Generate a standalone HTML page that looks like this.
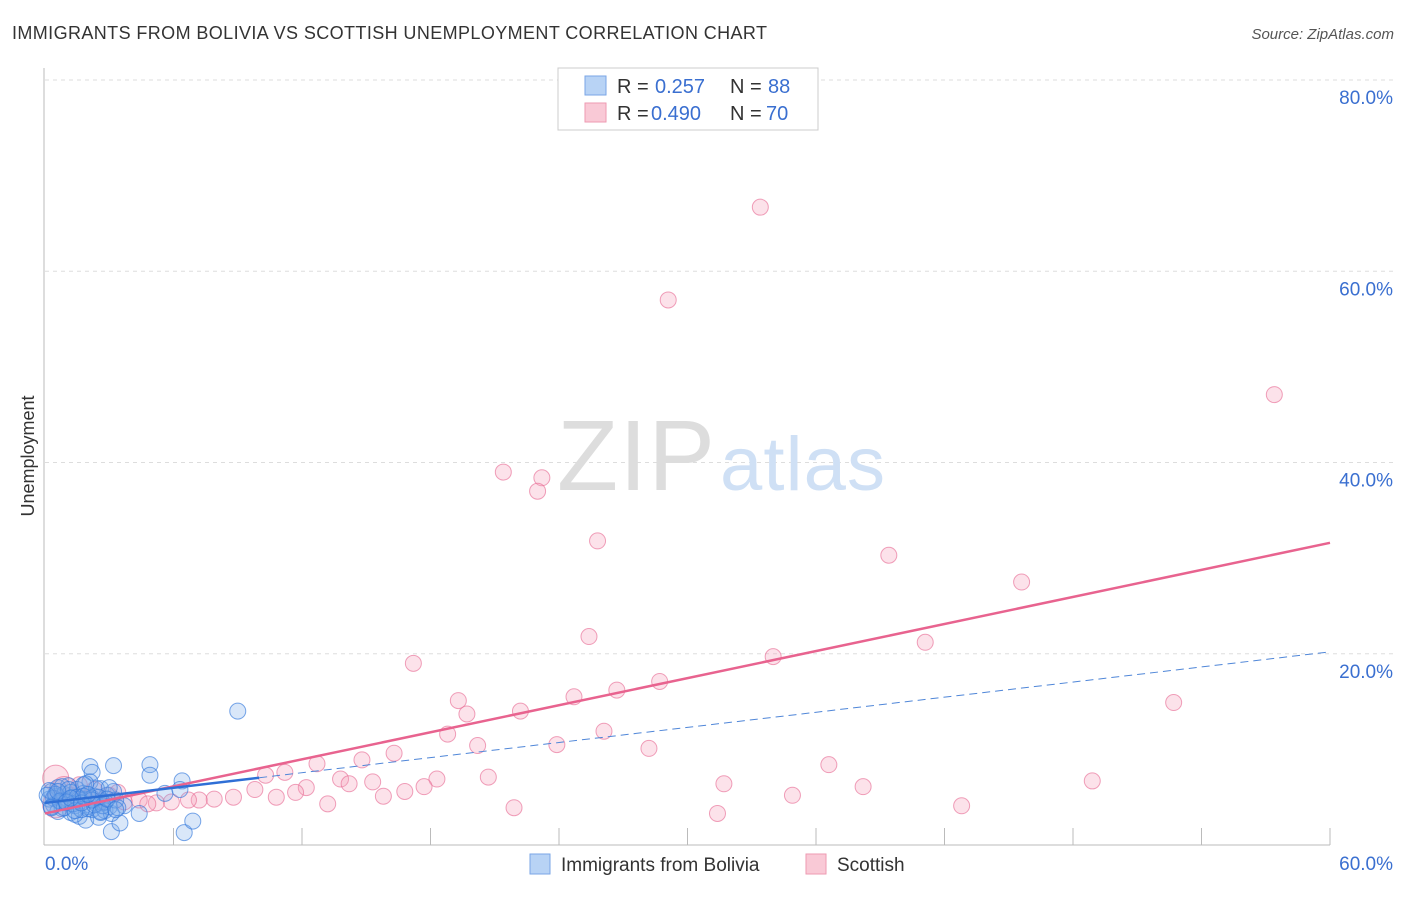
<!DOCTYPE html>
<html><head><meta charset="utf-8"><style>
body{margin:0;background:#fff;font-family:"Liberation Sans",sans-serif;}
svg text{font-family:"Liberation Sans",sans-serif;}
</style></head><body>
<svg id="chart" width="1406" height="892" viewBox="0 0 1406 892">
<text x="12" y="39" font-size="18" fill="#333" textLength="755">IMMIGRANTS FROM BOLIVIA VS SCOTTISH UNEMPLOYMENT CORRELATION CHART</text>
<text x="1394" y="39" font-size="15" fill="#555" font-style="italic" text-anchor="end">Source: ZipAtlas.com</text>
<g id="grid"></g>
<text x="557" y="490" font-size="100" fill="#ddd" textLength="158" font-family="Liberation Serif">ZIP</text>
<text x="720" y="490" font-size="76" fill="#cfe0f5" textLength="165">atlas</text>
<text transform="translate(34,456) rotate(-90)" font-size="18" fill="#333" text-anchor="middle">Unemployment</text>
<g id="points"></g>
<g id="lines"></g>
<g>
<rect x="558" y="68" width="260" height="62" fill="#fff" stroke="#ccc"/>
<rect x="585" y="76" width="21" height="19" fill="#b8d3f5" stroke="#7aa6e6"/>
<text x="617" y="93" font-size="20" fill="#333">R =</text>
<text x="655" y="93" font-size="20" fill="#3a6fd0">0.257</text>
<text x="730" y="93" font-size="20" fill="#333">N =</text>
<text x="768" y="93" font-size="20" fill="#3a6fd0">88</text>
<rect x="585" y="103" width="21" height="19" fill="#f9c9d6" stroke="#ee9ab2"/>
<text x="617" y="120" font-size="20" fill="#333">R =</text>
<text x="651" y="120" font-size="20" fill="#3a6fd0">0.490</text>
<text x="730" y="120" font-size="20" fill="#333">N =</text>
<text x="766" y="120" font-size="20" fill="#3a6fd0">70</text>
</g>
<g>
<rect x="530" y="854" width="20" height="20" fill="#b8d3f5" stroke="#7aa6e6"/>
<text x="561" y="871" font-size="19" fill="#333">Immigrants from Bolivia</text>
<rect x="806" y="854" width="20" height="20" fill="#f9c9d6" stroke="#ee9ab2"/>
<text x="837" y="871" font-size="19" fill="#333">Scottish</text>
</g>
</svg>
<script>
const yTicks=[20,40,60,80];
const yTickLabels=["20.0%","40.0%","60.0%","80.0%"];
const xTickLabels=["0.0%","60.0%"];
const xTicks=[6,12,18,24,30,36,42,48,54,60];
const pinkX=[33.4,29.1,57.4,21.4,23.2,23.0,25.8,39.4,45.6,25.4,41.1,17.2,34.0,19.3,19.7,24.7,26.7,28.7,22.2,52.7,18.8,20.2,23.9,26.1,28.2,16.3,14.8,12.7,36.6,20.7,18.3,13.8,14.2,15.3,31.7,48.9,38.2,17.7,16.8,15.8,34.9,42.8,21.9,31.4,13.2,12.2,11.7,10.8,10.3,11.2,9.8,8.8,7.9,7.2,6.7,5.9,5.2,4.4,3.7,3.0,2.3,1.6,0.5,1.2,0.5,0.9,1.9,2.6,3.4,4.8];
const pinkY=[66.7,57.0,47.1,39.0,38.4,37.0,31.8,30.3,27.5,21.8,21.2,19.0,19.7,15.1,13.7,15.5,16.2,17.1,14.0,14.9,11.6,10.4,10.5,11.9,10.1,9.6,8.9,8.5,8.4,7.1,6.9,6.9,6.4,6.6,6.4,6.7,6.1,6.1,5.6,5.1,5.2,4.1,3.9,3.3,4.3,6.0,5.5,5.0,7.3,7.6,5.8,5.0,4.8,4.7,4.7,4.5,4.4,4.7,4.5,5.2,5.8,6.3,7.0,5.2,4.2,5.8,4.9,4.6,5.5,4.3];
const blueX=[9.0,4.9,4.9,2.1,2.2,3.2,6.4,5.6,6.3,6.5,6.9,3.1,3.5,4.4,3.7,0.2,0.3,0.4,0.5,0.6,0.7,0.8,0.9,1.0,1.1,1.2,1.3,1.4,1.5,1.6,1.7,1.8,1.9,2.0,2.1,2.2,2.3,2.4,2.5,2.6,2.7,2.8,2.9,3.0,3.1,3.2,3.3,3.4,0.2,0.4,0.6,0.8,1.0,1.2,1.4,1.6,1.8,2.0,2.2,2.4,2.6,2.8,3.0,0.3,0.5,0.7,0.9,1.1,1.3,1.5,1.7,1.9,2.3,2.5,2.7,0.1,0.3,0.6,1.0,1.4,1.8,2.2,2.6,1.2,1.7,2.0,2.9,3.3];
const blueY=[14.0,8.4,7.3,8.2,7.6,8.3,6.7,5.4,5.8,1.3,2.5,1.4,2.3,3.3,4.1,4.8,5.6,4.2,5.1,6.0,4.5,3.8,5.3,4.7,6.2,3.4,5.0,4.1,5.8,3.0,4.6,5.4,2.6,4.0,6.6,3.7,5.1,4.3,2.9,5.9,4.4,3.6,5.2,4.0,3.3,5.6,4.7,3.9,5.7,4.9,3.5,6.1,4.4,5.5,3.2,4.8,6.3,3.8,4.9,5.9,3.5,4.5,6.0,4.0,5.3,4.6,3.9,5.8,4.3,5.0,3.7,6.4,4.2,5.0,4.1,5.2,3.9,5.6,4.5,3.6,5.1,4.7,3.4,4.9,4.4,5.3,4.8,3.7];
const pinkTrend=[3.3,31.6];
const blueTrend=[4.4,20.2];
const blueSolidEnd=10;
const NS="http://www.w3.org/2000/svg";
const X0=45,X1=1330,Y0=845;
function xs(v){return X0+(X1-X0)*v/60;}
function ys(v){return Y0-(Y0-80)*v/80;}
function mk(tag,attrs,parent){const e=document.createElementNS(NS,tag);for(const k in attrs)e.setAttribute(k,attrs[k]);parent.appendChild(e);return e;}
const grid=document.getElementById('grid');
const ax1=mk('line',{x1:44,y1:68,x2:44,y2:845,stroke:'#bbb'},grid);


const ax2=mk('line',{x1:44,y1:845,x2:1330,y2:845,stroke:'#bbb'},grid);


yTicks.forEach((t,i)=>{
 const g=mk('line',{x1:45,y1:ys(t),x2:1395,y2:ys(t),stroke:'#ddd','stroke-dasharray':'4,4'},grid);
 
 
 const l=mk('text',{x:1393,y:ys(t)+24,'font-size':19,fill:'#3a6fd0','text-anchor':'end'},grid);
 l.textContent=yTickLabels[i];
 
 
});
xTicks.forEach(t=>{
 const k=mk('line',{x1:xs(t),y1:828,x2:xs(t),y2:845,stroke:'#bbb'},grid);
 
 
});
const xl0=mk('text',{x:45,y:870,'font-size':19,fill:'#3a6fd0'},grid);
xl0.textContent=xTickLabels[0];


const xl1=mk('text',{x:1393,y:870,'font-size':19,fill:'#3a6fd0','text-anchor':'end'},grid);
xl1.textContent=xTickLabels[1];


const pts=document.getElementById('points');
pinkX.forEach((v,i)=>{
 const c=mk('circle',{cx:xs(v),cy:ys(pinkY[i]),r:(v<1?13:8),fill:'rgba(245,160,185,0.3)',stroke:'rgba(232,110,150,0.65)','stroke-width':1},pts);
 
 
});
blueX.forEach((v,i)=>{
 const c=mk('circle',{cx:xs(v),cy:ys(blueY[i]),r:8,fill:'rgba(120,170,235,0.28)',stroke:'rgba(50,120,220,0.65)','stroke-width':1},pts);
 
 
});
const ln=document.getElementById('lines');
const bf=v=>blueTrend[0]+(blueTrend[1]-blueTrend[0])*v/60;
const pt=mk('line',{x1:xs(0),y1:ys(pinkTrend[0]),x2:xs(60),y2:ys(pinkTrend[1]),stroke:'#e8638f','stroke-width':2.5},ln);


const bs=mk('line',{x1:xs(0),y1:ys(bf(0)),x2:xs(blueSolidEnd),y2:ys(bf(blueSolidEnd)),stroke:'#2f6fd6','stroke-width':2.5},ln);


const bd=mk('line',{x1:xs(blueSolidEnd),y1:ys(bf(blueSolidEnd)),x2:xs(60),y2:ys(bf(60)),stroke:'#4f86d8','stroke-width':1,'stroke-dasharray':'8,5'},ln);


</script>
</body></html>
